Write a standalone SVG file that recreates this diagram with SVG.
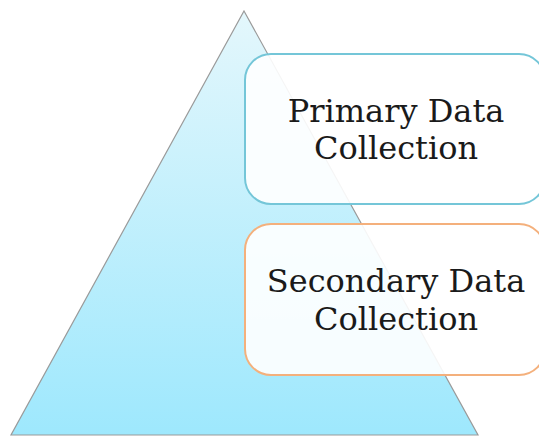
<svg xmlns="http://www.w3.org/2000/svg" width="539" height="436" viewBox="0 0 539 436">
<defs>
<linearGradient id="tri" x1="0" y1="0" x2="0" y2="1">
<stop offset="0" stop-color="#e4f7fc"/>
<stop offset="1" stop-color="#9ee8fd"/>
</linearGradient>
</defs>
<style>
.box{fill:#ffffff;fill-opacity:0.9;stroke-width:2}
.lbl{font-family:"DejaVu Serif",serif;font-size:32px;fill:#1a1a1a;text-anchor:middle}
</style>
<rect width="539" height="436" fill="#ffffff"/>
<g id="pyramid">
<polygon points="244,11 478,435 11,435" fill="url(#tri)" stroke="#9a9a9a" stroke-width="1.2"/>
</g>
<g id="connectors"></g>
<g id="primary">
<rect class="box" x="245" y="54" width="300" height="150" rx="26" stroke="#74c6d8"/>
<text class="lbl" x="396" y="122">Primary Data</text>
<text class="lbl" x="396" y="159">Collection</text>
</g>
<g id="secondary">
<rect class="box" x="245" y="224" width="300" height="151" rx="26" stroke="#f4b07c"/>
<text class="lbl" x="396" y="292">Secondary Data</text>
<text class="lbl" x="396" y="330">Collection</text>
</g>
</svg>
